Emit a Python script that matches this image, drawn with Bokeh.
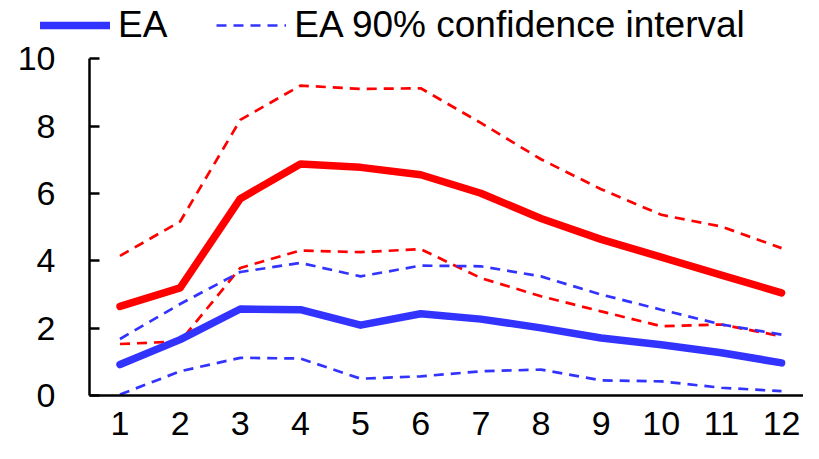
from bokeh.plotting import figure
from bokeh.models import Range1d, Legend, LegendItem, FixedTicker
from bokeh.embed import file_html
from bokeh.resources import INLINE

horizons = [1, 2, 3, 4, 5, 6, 7, 8, 9, 10, 11, 12]

red_mid = [2.65, 3.2, 5.85, 6.88, 6.78, 6.56, 6.01, 5.26, 4.64, 4.11, 3.58, 3.05]
red_hi = [4.15, 5.17, 8.19, 9.21, 9.11, 9.13, 8.1, 7.02, 6.13, 5.37, 5.02, 4.38]
red_lo = [1.53, 1.61, 3.79, 4.31, 4.26, 4.35, 3.49, 2.95, 2.5, 2.06, 2.11, 1.76]

ea_mid = [0.92, 1.66, 2.57, 2.55, 2.09, 2.43, 2.27, 2.01, 1.71, 1.51, 1.27, 0.97]
ea_hi = [1.68, 2.72, 3.67, 3.94, 3.54, 3.86, 3.84, 3.54, 3.0, 2.55, 2.11, 1.81]
ea_lo = [0.03, 0.72, 1.12, 1.1, 0.5, 0.57, 0.72, 0.77, 0.45, 0.42, 0.23, 0.13]

y_ticks = [0, 2, 4, 6, 8, 10]

FONT = "Liberation Sans"
RED = "#ff0000"
BLUE = "#3333ff"

X_AXIS_AT = 0.493

p = figure(width=803, height=443, output_backend="svg", toolbar_location=None,
           x_range=Range1d(-0.987, 12.365), y_range=Range1d(-1.426, 11.738),
           min_border_left=0, min_border_right=0, min_border_top=0,
           min_border_bottom=0)
p.outline_line_color = None
p.xgrid.visible = False
p.ygrid.visible = False
p.background_fill_color = "white"

dash = "10 7"
r_hi = p.line(horizons, red_hi, line_color=RED, line_width=2.7, line_dash=dash)
r_lo = p.line(horizons, red_lo, line_color=RED, line_width=2.7, line_dash=dash)
e_hi = p.line(horizons, ea_hi, line_color=BLUE, line_width=2.7, line_dash=dash)
e_lo = p.line(horizons, ea_lo, line_color=BLUE, line_width=2.7, line_dash=dash)
r_mid = p.line(horizons, red_mid, line_color=RED, line_width=7.5,
               line_cap="round", line_join="round")
e_mid = p.line(horizons, ea_mid, line_color=BLUE, line_width=7.5,
               line_cap="round", line_join="round")

legend = Legend(items=[LegendItem(label="EA", renderers=[e_mid]),
                       LegendItem(label="EA 90% confidence interval", renderers=[e_hi])],
                orientation="horizontal", location=(40, 397),
                label_text_font=FONT, label_text_font_size="37px",
                label_text_color="black",
                glyph_width=70, glyph_height=20, label_standoff=8, spacing=49,
                padding=0, margin=0, border_line_color=None,
                background_fill_alpha=0)
p.add_layout(legend, "center")

p.xaxis.ticker = FixedTicker(ticks=horizons)
p.yaxis.ticker = FixedTicker(ticks=y_ticks)
p.yaxis.bounds = (0, 10)
p.yaxis.fixed_location = X_AXIS_AT
p.xaxis.bounds = (X_AXIS_AT, 12.365)
p.xaxis.fixed_location = 0
for ax in (p.xaxis, p.yaxis):
    ax.axis_line_color = "black"
    ax.axis_line_width = 2.5
    ax.minor_tick_line_color = None
    ax.major_label_text_font = FONT
    ax.major_label_text_font_size = "34px"
    ax.major_label_text_color = "black"
p.xaxis.major_tick_line_color = None
p.xaxis.major_label_standoff = 10
p.yaxis.major_tick_in = 10
p.yaxis.major_tick_out = 0
p.yaxis.major_tick_line_width = 2.5
p.yaxis.major_label_standoff = 34

open("out.html", "w").write(file_html(p, INLINE))
